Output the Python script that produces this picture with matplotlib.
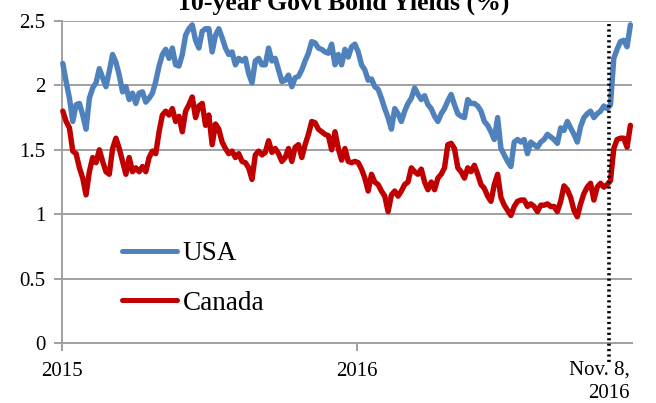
import numpy as np
import pandas as pd
import matplotlib
matplotlib.use("Agg")
import matplotlib.pyplot as plt

usa = [2.17, 2.03, 1.90, 1.72, 1.85, 1.86, 1.77, 1.66, 1.90, 1.98,
       2.02, 2.13, 2.06, 1.99, 2.11, 2.24, 2.18, 2.08, 1.95, 1.99,
       1.89, 1.94, 1.86, 1.94, 1.95, 1.87, 1.90, 1.94, 2.03, 2.15,
       2.24, 2.28, 2.21, 2.29, 2.16, 2.15, 2.24, 2.39, 2.44, 2.47,
       2.35, 2.29, 2.42, 2.44,
       2.44, 2.26, 2.39, 2.44, 2.37, 2.29, 2.24, 2.26, 2.16, 2.21,
       2.19, 2.21, 2.09, 2.02, 2.19, 2.21, 2.16, 2.16, 2.29, 2.19,
       2.21, 2.12, 2.03, 2.04, 2.08, 1.99, 2.06, 2.07, 2.12, 2.19,
       2.25, 2.34, 2.33, 2.29, 2.28, 2.26, 2.25, 2.32, 2.16, 2.24,
       2.16, 2.28, 2.22, 2.30,
       2.32, 2.26, 2.16, 2.12, 2.04, 2.05, 1.99, 1.97, 1.90, 1.82,
       1.75, 1.66, 1.82, 1.78, 1.72, 1.80, 1.86, 1.90, 1.98, 1.93,
       1.89, 1.92, 1.85, 1.82, 1.76, 1.72, 1.78, 1.82, 1.88, 1.93,
       1.85, 1.78, 1.76, 1.75, 1.89, 1.86, 1.86, 1.84, 1.80, 1.72,
       1.69, 1.64, 1.58, 1.75,
       1.51, 1.46, 1.41, 1.37, 1.56, 1.58, 1.56, 1.58, 1.47, 1.56,
       1.54, 1.52, 1.56, 1.58, 1.62, 1.60, 1.58, 1.55, 1.67, 1.65,
       1.72, 1.67, 1.62, 1.56, 1.68, 1.75, 1.78, 1.80, 1.75, 1.78,
       1.80, 1.84, 1.82, 1.85, 2.21, 2.28, 2.34, 2.35, 2.30, 2.47]

canada = [1.80, 1.72, 1.67, 1.49, 1.47, 1.36, 1.28, 1.15, 1.33, 1.44,
          1.40, 1.50, 1.41, 1.33, 1.31, 1.51, 1.59, 1.51, 1.41, 1.31,
          1.44, 1.33, 1.36, 1.33, 1.37, 1.33, 1.44, 1.49, 1.47, 1.64,
          1.77, 1.80, 1.77, 1.82, 1.72, 1.76, 1.64, 1.80, 1.85, 1.91,
          1.75, 1.84, 1.86, 1.69,
          1.77, 1.54, 1.70, 1.66, 1.56, 1.51, 1.47, 1.49, 1.44, 1.47,
          1.41, 1.40, 1.36, 1.27, 1.46, 1.49, 1.46, 1.48, 1.57, 1.48,
          1.51, 1.47, 1.41, 1.44, 1.51, 1.41, 1.52, 1.54, 1.44, 1.54,
          1.62, 1.72, 1.71, 1.66, 1.64, 1.62, 1.61, 1.50, 1.64, 1.51,
          1.42, 1.51, 1.41, 1.40,
          1.41, 1.40, 1.35, 1.28, 1.18, 1.31, 1.25, 1.23, 1.18, 1.14,
          1.02, 1.15, 1.18, 1.14, 1.18, 1.23, 1.25, 1.36, 1.33, 1.31,
          1.35, 1.25, 1.19, 1.25, 1.19, 1.28, 1.31, 1.36, 1.54, 1.55,
          1.51, 1.36, 1.33, 1.28, 1.36, 1.33, 1.38, 1.31, 1.23, 1.20,
          1.14, 1.10, 1.23, 1.31,
          1.13, 1.07, 1.03, 0.99, 1.06, 1.10, 1.11, 1.11, 1.06, 1.08,
          1.06, 1.02, 1.07, 1.07, 1.08, 1.06, 1.06, 1.02, 1.10, 1.22,
          1.19, 1.13, 1.03, 0.98, 1.08, 1.16, 1.21, 1.24, 1.11, 1.21,
          1.24, 1.21, 1.23, 1.26, 1.51, 1.58, 1.59, 1.59, 1.52, 1.69]

dates = pd.date_range("2015-01-02", "2016-12-05", periods=len(usa))
election = pd.Timestamp("2016-11-08")
yticks = [0, 0.5, 1, 1.5, 2, 2.5]
ytick_labels = ["0", "0.5", "1", "1.5", "2", "2.5"]
year_ticks = [pd.Timestamp("2015-01-01"), pd.Timestamp("2016-01-01")]
year_labels = ["2015", "2016"]

plt.rcParams["font.family"] = ["Liberation Serif", "DejaVu Serif"]

fig = plt.figure(figsize=(6.56, 4.03), dpi=100)
ax = fig.add_axes([62 / 656, 1 - 343 / 403, 570 / 656, 322 / 403])

ax.plot(dates, usa, color="#4F81BD", lw=3.9, solid_joinstyle="round",
        solid_capstyle="round", label="USA", zorder=3, clip_on=False)
ax.plot(dates, canada, color="#C00000", lw=3.9, solid_joinstyle="round",
        solid_capstyle="round", label="Canada", zorder=3, clip_on=False)

# election day marker, running a little below the axis
ax.axvline(election, ymin=-0.06, ymax=1, color="black", lw=2.6,
           ls=(0, (0.6, 0.9)), clip_on=False, zorder=4)

ax.set_ylim(0, 2.5)
ax.set_xlim(pd.Timestamp("2015-01-01"), pd.Timestamp("2016-12-07"))
ax.set_yticks(yticks)
ax.set_yticklabels(ytick_labels)
ax.set_xticks(year_ticks)
ax.set_xticklabels(year_labels)

ax.grid(axis="y", color="#A0A0A0", lw=1.4)
ax.set_axisbelow(True)
for s in ["top", "right"]:
    ax.spines[s].set_visible(False)
for s in ["left", "bottom"]:
    ax.spines[s].set_color("#A0A0A0")
    ax.spines[s].set_linewidth(1.4)
ax.tick_params(axis="both", colors="#A0A0A0", labelcolor="black",
               labelsize=15, width=1.4, length=6)
ax.tick_params(axis="x", pad=8)
ax.tick_params(axis="y", pad=6)

ax.annotate("Nov. 8,\n2016", xy=(election, 0), xycoords=("data", "axes fraction"),
            xytext=(21, -18), textcoords="offset pixels", ha="right", va="top",
            fontsize=15, multialignment="right", linespacing=1.25)

leg = ax.legend(loc="upper left", bbox_to_anchor=(0.086, 0.35), frameon=False,
                fontsize=19.5, handlelength=2.05, handletextpad=0.2,
                labelspacing=0.9, borderaxespad=0)
for line in leg.get_lines():
    line.set_linewidth(3.6)
    line.set_solid_capstyle("round")

fig.text(344 / 656, 1 - 10 / 403, "10-year Govt Bond Yields (%)",
         ha="center", va="baseline", fontsize=18.5, fontweight="bold")

fig.savefig("out.png", dpi=100)
